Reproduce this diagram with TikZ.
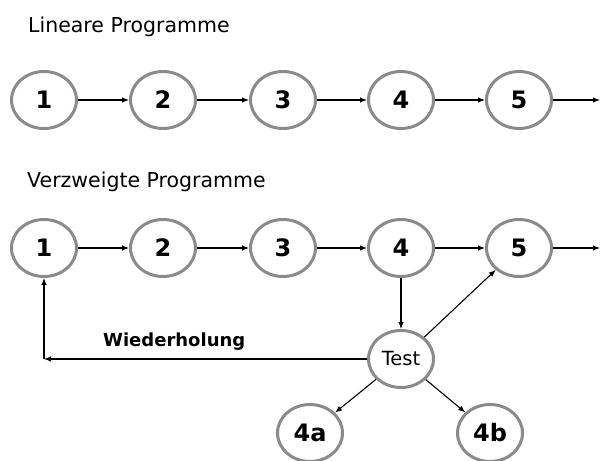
\documentclass[tikz,border=0pt]{standalone}
\usepackage{fontspec}
\setmainfont{DejaVu Sans}
\usepackage{tikz}
\usetikzlibrary{arrows.meta}
\usetikzlibrary{shapes.geometric}
\definecolor{ringgray}{RGB}{138,138,138}

\begin{document}
\begin{tikzpicture}[x=1pt, y=-1pt,
    knot/.style={shape=ellipse, draw=ringgray, line width=3pt, fill=white, inner sep=0pt,
        minimum width=65pt, minimum height=57pt, font=\fontsize{24}{24}\selectfont\bfseries},
    testknot/.style={knot, font=\fontsize{19.5}{20}\selectfont},
    pfeil/.style={-{Latex[length=7pt,width=5.5pt]}, line width=1.1pt},
    titel/.style={anchor=base west, inner sep=0pt, font=\fontsize{20.5}{21}\selectfont},
    marke/.style={anchor=base west, inner sep=0pt, font=\fontsize{18}{18}\selectfont\bfseries}]

    \useasboundingbox (0,0) rectangle (601,460);

    % lineare Programme
    \node[titel] (T1) at (28,33) {Lineare Programme};
    \node[knot] (A1) at (44,100) {1};
    \node[knot] (A2) at (163,100) {2};
    \node[knot] (A3) at (283,100) {3};
    \node[knot] (A4) at (401,100) {4};
    \node[knot] (A5) at (519,100) {5};
    \coordinate (A6) at (600,100);

    \draw[pfeil] (A1) -- (A2);
    \draw[pfeil] (A2) -- (A3);
    \draw[pfeil] (A3) -- (A4);
    \draw[pfeil] (A4) -- (A5);
    \draw[pfeil] (A5) -- (A6);

    % verzweigte Programme
    \node[titel] (T2) at (27,187) {Verzweigte Programme};
    \node[knot] (B1) at (44,248) {1};
    \node[knot] (B2) at (163,248) {2};
    \node[knot] (B3) at (283,248) {3};
    \node[knot] (B4) at (401,248) {4};
    \node[knot] (B5) at (519,248) {5};
    \coordinate (B6) at (600,248);

    \node[testknot] (test) at (401,359) {Test};
    \node[knot] (C1) at (310,433) {4a};
    \node[knot] (C2) at (490,433) {4b};
    \coordinate (K) at (B1 |- test);
    \node[marke] (W) at (103,346) {Wiederholung};

    \draw[pfeil] (B1) -- (B2);
    \draw[pfeil] (B2) -- (B3);
    \draw[pfeil] (B3) -- (B4);
    \draw[pfeil] (B4) -- (B5);
    \draw[pfeil] (B5) -- (B6);
    \draw[pfeil] (B4) -- (test);
    \draw[pfeil] (test) -- (B5);
    \draw[pfeil] (test) -- (K);
    \draw[pfeil] (K) -- (B1);
    \draw[pfeil] (test) -- (C1);
    \draw[pfeil] (test) -- (C2);

\end{tikzpicture}
\end{document}
